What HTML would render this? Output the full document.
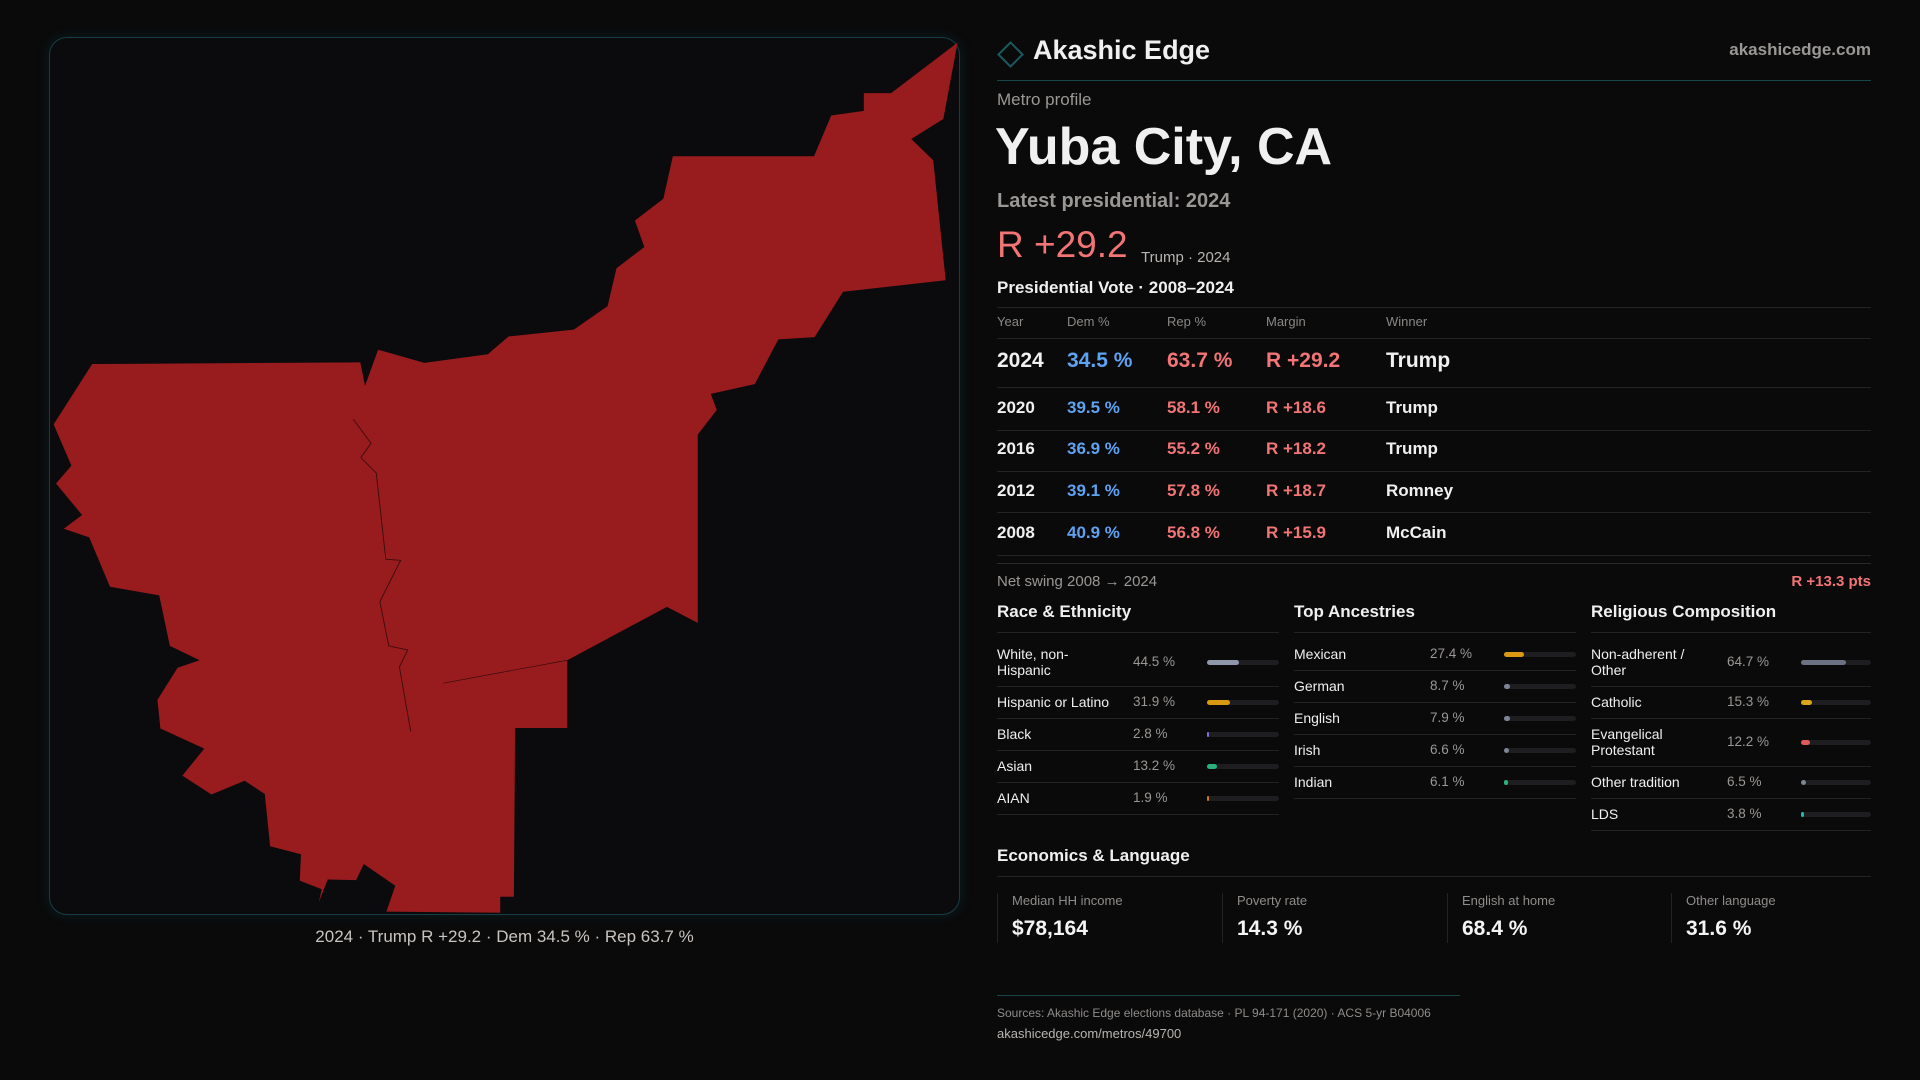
<!DOCTYPE html>
<html><head><meta charset="utf-8">
<style>
*{margin:0;padding:0;box-sizing:border-box}
body{width:1920px;height:1080px;background:#0a0a0b;font-family:"Liberation Sans",sans-serif;color:#f0f0f0;position:relative;overflow:hidden}
.a{position:absolute;white-space:nowrap}
.g{color:#9a9794}
.blue{color:#5ea2f2}.red{color:#f27474}
.hl{position:absolute;height:1px;background:#232325}
.row{display:flex;align-items:center;border-bottom:1px solid #232325;padding:7.5px 0;font-size:14px;line-height:16px}
.row .lab{width:136px;color:#f0f0f0}
.row .val{width:74px;color:#9a9794;font-size:13.5px}
.row .trk{flex:1;height:5px;background:#1e1e20;border-radius:3px;position:relative}
.row .fill{position:absolute;left:0;top:0;height:5px;border-radius:3px}
.sect{position:absolute;top:632px;width:282px}
.card{position:absolute;top:893px;height:50px;border-left:1px solid #232325;padding-left:14px}
.card .l{font-size:13px;color:#8f8c89;line-height:16px}
.card .v{font-size:21px;font-weight:bold;color:#f4f4f4;margin-top:8px;line-height:24px}
</style></head>
<body>
<div style="position:absolute;left:49px;top:37px;width:911px;height:878px;border:1px solid #143d44;border-radius:18px;background:#0b0b0d;box-shadow:0 0 12px rgba(20,90,100,0.25)"></div>
<svg style="position:absolute;left:40px;top:30px" width="930" height="900" viewBox="0 0 1568 1568" preserveAspectRatio="none">
<polygon fill="#981b1e" points="88,582 540,579 548,620 570,557 648,580 755,565 790,534 900,522 957,481 972,415 1019,378 1003,332 1051,294 1067,220 1305,220 1334,149 1389,141 1389,110 1435,110 1547,22 1523,155 1469,190 1506,227 1527,436 1354,456 1306,535 1245,539 1205,617 1131,634 1141,662 1109,705 1109,1033 1057,1005 889,1098 889,1216 801,1216 799,1510 776,1510 776,1538 584,1536 599,1491 546,1453 533,1481 485,1480 470,1520 475,1497 438,1482 440,1436 388,1422 379,1331 345,1308 289,1332 240,1299 277,1252 203,1217 198,1167 232,1111 269,1098 219,1073 201,985 118,970 83,884 40,869 71,845 27,790 53,759 23,687"/>
<polyline fill="none" stroke="#3a0c0e" stroke-width="1.5" points="528,678 558,720 541,745 567,772 583,922 608,924 573,996 588,1073 620,1080 606,1110 625,1222"/>
<polyline fill="none" stroke="#3a0c0e" stroke-width="1.2" points="680,1138 889,1098"/>
</svg>
<div class="a" style="left:0;width:1009px;text-align:center;top:926px;font-size:17px;line-height:22px;color:#c9c4bf">2024 · Trump R +29.2 · Dem 34.5 % · Rep 63.7 %</div>

<div style="position:absolute;left:1001px;top:45px;width:19px;height:19px;border:2px solid #1a5a60;transform:rotate(45deg)"></div>
<div class="a" style="left:1033px;top:34px;font-size:27px;line-height:32px;font-weight:bold">Akashic Edge</div>
<div class="a" style="right:49px;top:40px;font-size:17px;line-height:20px;color:#9a9794;font-weight:bold">akashicedge.com</div>
<div class="hl" style="left:997px;width:874px;top:80px;background:#16454a"></div>
<div class="a g" style="left:997px;top:90px;font-size:17px;line-height:20px">Metro profile</div>
<div class="a" style="left:995px;top:117px;font-size:52px;line-height:60px;font-weight:bold">Yuba City, CA</div>
<div class="a g" style="left:997px;top:189px;font-size:20px;line-height:24px;font-weight:bold">Latest presidential: 2024</div>
<div class="a red" style="left:997px;top:224px;font-size:37px;line-height:42px">R +29.2</div>
<div class="a" style="left:1141px;top:249px;font-size:15px;line-height:18px;color:#b8b4b0">Trump · 2024</div>
<div class="a" style="left:997px;top:277px;font-size:17px;line-height:22px;font-weight:bold">Presidential Vote · 2008–2024</div>
<div class="hl" style="left:997px;width:874px;top:307px"></div>
<div style="position:absolute;top:314px;left:0;font-size:13px;line-height:16px;color:#8a8784">
<span class="a" style="left:997px">Year</span><span class="a" style="left:1067px">Dem %</span><span class="a" style="left:1167px">Rep %</span><span class="a" style="left:1266px">Margin</span><span class="a" style="left:1386px">Winner</span></div>
<div class="hl" style="left:997px;width:874px;top:338px"></div>
<div style="position:absolute;top:349px;left:0;font-size:21px;line-height:24px;font-weight:bold">
<span class="a" style="left:997px">2024</span><span class="a blue" style="left:1067px">34.5 %</span><span class="a red" style="left:1167px">63.7 %</span><span class="a red" style="left:1266px">R +29.2</span><span class="a" style="left:1386px">Trump</span></div>
<div class="hl" style="left:997px;width:874px;top:387px"></div>
<div style="position:absolute;top:398px;left:0;font-size:17px;line-height:20px;font-weight:bold">
<span class="a" style="left:997px">2020</span><span class="a blue" style="left:1067px">39.5 %</span><span class="a red" style="left:1167px">58.1 %</span><span class="a red" style="left:1266px">R +18.6</span><span class="a" style="left:1386px">Trump</span></div>
<div class="hl" style="left:997px;width:874px;top:430px"></div>
<div style="position:absolute;top:439px;left:0;font-size:17px;line-height:20px;font-weight:bold">
<span class="a" style="left:997px">2016</span><span class="a blue" style="left:1067px">36.9 %</span><span class="a red" style="left:1167px">55.2 %</span><span class="a red" style="left:1266px">R +18.2</span><span class="a" style="left:1386px">Trump</span></div>
<div class="hl" style="left:997px;width:874px;top:471px"></div>
<div style="position:absolute;top:481px;left:0;font-size:17px;line-height:20px;font-weight:bold">
<span class="a" style="left:997px">2012</span><span class="a blue" style="left:1067px">39.1 %</span><span class="a red" style="left:1167px">57.8 %</span><span class="a red" style="left:1266px">R +18.7</span><span class="a" style="left:1386px">Romney</span></div>
<div class="hl" style="left:997px;width:874px;top:512px"></div>
<div style="position:absolute;top:523px;left:0;font-size:17px;line-height:20px;font-weight:bold">
<span class="a" style="left:997px">2008</span><span class="a blue" style="left:1067px">40.9 %</span><span class="a red" style="left:1167px">56.8 %</span><span class="a red" style="left:1266px">R +15.9</span><span class="a" style="left:1386px">McCain</span></div>
<div class="hl" style="left:997px;width:874px;top:555px"></div>
<div class="hl" style="left:997px;width:874px;top:563px;background:#2a2a2c"></div>
<div class="a g" style="left:997px;top:573px;font-size:15px;line-height:18px">Net swing 2008 → 2024</div>
<div class="a red" style="right:49px;top:573px;font-size:15px;line-height:18px;font-weight:bold">R +13.3 pts</div>

<div class="a" style="left:997px;top:602px;font-size:17px;line-height:20px;font-weight:bold">Race &amp; Ethnicity</div>
<div class="a" style="left:1294px;top:602px;font-size:17px;line-height:20px;font-weight:bold">Top Ancestries</div>
<div class="a" style="left:1591px;top:602px;font-size:17px;line-height:20px;font-weight:bold">Religious Composition</div>
<div class="sect" id="race" style="left:997px;border-top:1px solid #232325"></div>
<div class="sect" id="anc" style="left:1294px;border-top:1px solid #232325"></div>
<div class="sect" id="rel" style="left:1591px;width:280px;border-top:1px solid #232325"></div>

<div class="a" style="left:997px;top:846px;font-size:17px;line-height:20px;font-weight:bold">Economics &amp; Language</div>
<div class="hl" style="left:997px;width:874px;top:876px"></div>
<div class="card" style="left:997px"><div class="l">Median HH income</div><div class="v">$78,164</div></div>
<div class="card" style="left:1222px"><div class="l">Poverty rate</div><div class="v">14.3 %</div></div>
<div class="card" style="left:1447px"><div class="l">English at home</div><div class="v">68.4 %</div></div>
<div class="card" style="left:1671px"><div class="l">Other language</div><div class="v">31.6 %</div></div>

<div class="hl" style="left:997px;width:463px;top:995px;background:#16454a"></div>
<div class="a" style="left:997px;top:1006px;font-size:12px;line-height:15px;color:#8f8c89">Sources: Akashic Edge elections database · PL 94-171 (2020) · ACS 5-yr B04006</div>
<div class="a" style="left:997px;top:1026px;font-size:13px;line-height:16px;color:#b8b4b0">akashicedge.com/metros/49700</div>

<script>
const raceLabels=["White, non-<br>Hispanic","Hispanic or Latino","Black","Asian","AIAN"];
const raceValues=[44.5,31.9,2.8,13.2,1.9];
const raceColors=["#8e98aa","#d99a12","#8a6ae0","#2bb07e","#c97a1a"];
const ancLabels=["Mexican","German","English","Irish","Indian"];
const ancValues=[27.4,8.7,7.9,6.6,6.1];
const ancColors=["#d99a12","#7d8596","#7d8596","#7d8596","#2bb07e"];
const relLabels=["Non-adherent /<br>Other","Catholic","Evangelical<br>Protestant","Other tradition","LDS"];
const relValues=[64.7,15.3,12.2,6.5,3.8];
const relColors=["#6b7283","#d9a717","#e05a5a","#7d8596","#26b5b0"];
function build(id,labels,values,colors,name){
  const host=document.getElementById(id);
  labels.forEach((lab,i)=>{
    const r=document.createElement('div');
    r.className='row';
    
    
    if(i===0) r.style.paddingTop='13px';
    r.innerHTML='<div class="lab">'+lab+'</div><div class="val">'+values[i].toFixed(1)+' %</div>';
    const trk=document.createElement('div');
    trk.className='trk';
    
    
    const f=document.createElement('div');
    f.className='fill';
    
    
    f.style.width=Math.max(values[i],3)+'%';
    f.style.background=colors[i];
    trk.appendChild(f);
    r.appendChild(trk);
    host.appendChild(r);
  });
}
build('race',raceLabels,raceValues,raceColors,'race');
build('anc',ancLabels,ancValues,ancColors,'ancestry');
build('rel',relLabels,relValues,relColors,'religion');
</script>
</body></html>
